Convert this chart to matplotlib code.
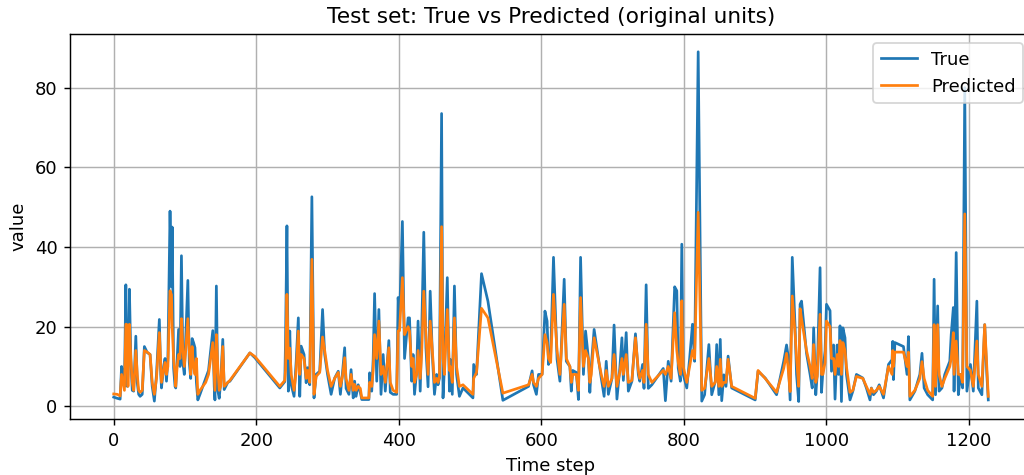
import matplotlib
matplotlib.use("Agg")
import matplotlib.pyplot as plt
import numpy as np

# (time step, true value, predicted value)
time_step = [
    0, 5, 9, 11, 13, 15, 17, 18, 19, 20, 22, 24, 26, 28, 31, 33, 35, 37, 40, 43,
    47, 51, 54, 57, 60, 64, 66, 67, 70, 72, 74, 76, 79, 81, 82, 84, 86, 87, 89, 91,
    93, 95, 97, 99, 101, 104, 106, 108, 110, 112, 114, 116, 118, 121, 125, 129, 133, 139, 141, 142,
    144, 146, 148, 150, 153, 155, 160, 163, 191, 198, 233, 240, 241, 243, 245, 247, 249, 253, 256, 259,
    261, 263, 267, 270, 272, 275, 278, 281, 284, 289, 293, 296, 300, 305, 310, 315, 318, 321, 324, 326,
    330, 333, 336, 338, 340, 343, 346, 348, 358, 359, 362, 364, 366, 369, 372, 375, 378, 381, 386, 388,
    392, 397, 399, 401, 405, 408, 413, 415, 418, 420, 422, 425, 427, 430, 432, 435, 438, 441, 444, 447,
    450, 453, 455, 457, 460, 462, 464, 468, 471, 472, 475, 478, 481, 485, 490, 504, 505, 509, 516, 525,
    546, 582, 587, 589, 593, 596, 601, 605, 608, 610, 613, 617, 622, 626, 632, 635, 640, 642, 644, 649,
    652, 655, 659, 662, 666, 668, 670, 674, 684, 688, 691, 694, 699, 702, 706, 710, 713, 715, 719, 722,
    727, 732, 736, 738, 742, 744, 747, 750, 755, 771, 774, 778, 782, 787, 790, 792, 795, 797, 799, 804,
    808, 812, 815, 820, 825, 829, 835, 839, 844, 846, 849, 851, 853, 856, 859, 862, 867, 900, 904, 914,
    930, 940, 944, 946, 949, 952, 956, 958, 961, 963, 965, 972, 977, 980, 982, 985, 987, 991, 993, 995,
    998, 1000, 1005, 1007, 1010, 1012, 1015, 1017, 1019, 1021, 1023, 1026, 1028, 1033, 1037, 1042, 1051, 1056, 1061, 1063,
    1066, 1070, 1074, 1080, 1087, 1092, 1093, 1094, 1096, 1108, 1113, 1115, 1117, 1124, 1131, 1134, 1137, 1142, 1149, 1151,
    1153, 1156, 1158, 1162, 1166, 1173, 1175, 1178, 1179, 1182, 1185, 1188, 1191, 1194, 1197, 1202, 1206, 1211, 1213, 1218,
    1222, 1225, 1227,
]
true_values = [
    2.3, 2.0, 1.8, 10.0, 8.0, 5.0, 30.5, 12.0, 5.0, 8.0, 29.4, 12.0, 4.0, 3.8, 17.6, 6.0, 3.0, 2.5, 3.0, 15.0,
    13.5, 13.0, 5.0, 1.3, 8.0, 21.8, 8.0, 4.6, 10.0, 12.0, 6.3, 12.0, 49.0, 30.0, 45.0, 9.6, 5.0, 4.6, 12.0, 19.3,
    10.0, 37.8, 11.0, 8.0, 17.0, 31.6, 11.0, 7.0, 17.0, 16.0, 14.7, 6.0, 1.6, 3.0, 5.0, 7.0, 9.0, 19.0, 5.0, 1.6,
    30.2, 4.0, 2.0, 6.0, 16.8, 4.2, 6.0, 6.3, 13.4, 12.2, 4.6, 6.2, 16.1, 45.3, 3.8, 18.9, 5.4, 2.5, 11.3, 22.2,
    2.5, 15.1, 13.0, 5.9, 9.7, 5.4, 52.6, 2.1, 8.0, 8.8, 24.3, 13.0, 8.0, 3.0, 7.1, 8.8, 3.0, 8.5, 14.7, 4.5,
    3.0, 9.2, 2.1, 6.3, 2.5, 5.4, 3.5, 1.7, 1.7, 8.4, 3.8, 11.8, 28.3, 6.3, 24.3, 3.0, 13.0, 3.8, 16.5, 3.5,
    3.0, 3.0, 27.3, 22.2, 46.4, 12.0, 22.2, 22.2, 6.3, 13.0, 3.0, 8.8, 21.4, 3.8, 18.0, 43.7, 14.7, 4.9, 28.9, 13.0,
    3.0, 8.0, 5.4, 7.1, 73.5, 2.1, 9.7, 32.3, 3.8, 11.8, 3.0, 30.2, 8.0, 2.5, 4.6, 2.1, 10.5, 8.0, 33.3, 26.4,
    1.5, 5.0, 8.9, 5.4, 3.0, 8.0, 8.0, 23.9, 21.4, 10.5, 13.0, 37.4, 11.8, 6.3, 31.9, 11.3, 10.0, 3.8, 9.0, 8.5,
    1.7, 37.4, 8.0, 18.9, 12.0, 3.5, 10.0, 19.3, 7.1, 2.5, 11.3, 3.0, 7.0, 20.4, 1.8, 9.5, 17.2, 6.5, 18.5, 3.8,
    6.3, 18.2, 8.0, 6.3, 10.5, 4.5, 30.5, 4.5, 5.4, 9.5, 1.4, 11.3, 6.3, 30.0, 29.0, 9.6, 6.3, 40.7, 8.0, 4.6,
    12.0, 20.6, 11.3, 89.0, 1.3, 2.9, 15.5, 2.9, 6.3, 15.5, 2.9, 16.8, 1.4, 7.9, 5.0, 12.6, 4.6, 1.6, 8.8, 7.1,
    2.9, 11.3, 15.4, 12.9, 1.6, 37.4, 19.7, 8.0, 1.2, 25.6, 26.4, 13.3, 8.0, 4.6, 19.7, 2.9, 8.0, 34.8, 3.5, 8.8,
    13.9, 25.6, 24.0, 8.8, 15.4, 1.8, 15.4, 8.0, 20.2, 1.2, 19.7, 17.2, 8.0, 1.6, 3.8, 8.0, 7.1, 4.6, 1.6, 4.6,
    2.9, 3.8, 5.4, 2.1, 10.5, 11.7, 16.3, 6.7, 16.0, 15.0, 8.0, 17.5, 1.6, 3.8, 8.0, 13.3, 4.6, 2.9, 1.6, 31.9,
    2.9, 25.2, 3.8, 4.6, 8.0, 11.3, 18.0, 24.8, 3.8, 38.6, 2.9, 8.0, 4.6, 80.0, 3.8, 10.5, 3.8, 26.4, 4.6, 2.9,
    20.5, 8.0, 1.6,
]
predicted_values = [
    3.1, 3.0, 2.6, 8.0, 6.0, 4.0, 20.6, 20.6, 12.0, 5.0, 20.6, 12.0, 6.0, 4.0, 14.0, 8.0, 4.0, 3.5, 4.0, 14.0,
    13.6, 13.0, 6.0, 3.0, 7.0, 18.5, 10.0, 6.0, 9.0, 11.0, 8.0, 10.0, 29.0, 28.0, 20.0, 12.0, 8.0, 5.0, 10.0, 13.0,
    12.0, 22.0, 14.0, 10.0, 14.0, 22.0, 14.0, 8.0, 15.0, 10.0, 8.0, 12.0, 3.0, 4.0, 5.0, 6.0, 8.0, 16.0, 8.0, 4.0,
    18.0, 10.0, 4.0, 5.0, 15.0, 5.0, 6.0, 6.5, 13.4, 12.5, 5.0, 6.5, 9.0, 28.1, 12.0, 14.6, 8.0, 4.0, 9.0, 18.9,
    8.0, 13.0, 12.0, 7.0, 9.0, 6.0, 36.9, 3.0, 7.5, 8.5, 17.4, 14.0, 9.0, 5.0, 7.0, 8.5, 5.0, 7.5, 12.2, 7.0,
    4.0, 8.0, 4.0, 5.5, 4.0, 5.0, 4.5, 2.1, 2.1, 6.0, 5.0, 9.0, 18.0, 12.0, 21.4, 8.0, 10.0, 6.0, 14.7, 6.0,
    4.0, 3.5, 18.9, 19.0, 32.3, 18.0, 20.0, 18.9, 10.0, 12.0, 6.0, 8.0, 14.0, 7.0, 13.0, 28.9, 18.0, 8.0, 21.4, 14.0,
    6.0, 7.0, 6.0, 7.5, 45.1, 12.0, 8.0, 24.3, 9.0, 10.0, 6.0, 22.2, 10.0, 5.0, 5.4, 3.0, 7.0, 8.5, 24.6, 22.2,
    3.3, 5.4, 8.0, 6.0, 5.0, 7.0, 8.0, 18.0, 16.0, 12.0, 11.0, 28.1, 14.0, 8.0, 25.6, 12.0, 10.0, 6.0, 8.0, 8.0,
    4.0, 27.3, 10.0, 14.0, 12.0, 6.0, 8.0, 17.2, 8.0, 5.0, 9.0, 5.0, 7.0, 13.0, 5.0, 8.5, 12.0, 8.0, 13.0, 6.0,
    6.5, 17.2, 9.0, 7.0, 9.0, 6.0, 20.6, 8.0, 6.0, 9.0, 8.0, 10.0, 7.0, 23.5, 14.0, 11.0, 8.0, 26.5, 10.0, 6.0,
    10.0, 14.0, 12.0, 48.7, 4.0, 4.5, 12.0, 5.0, 6.0, 10.0, 5.0, 11.8, 5.0, 6.0, 6.0, 11.8, 5.0, 2.0, 9.0, 7.0,
    3.5, 9.5, 13.3, 10.0, 3.7, 27.7, 18.0, 12.0, 5.0, 24.5, 22.0, 14.0, 10.0, 7.0, 15.5, 6.0, 7.5, 23.1, 8.0, 8.0,
    11.0, 21.4, 20.0, 12.0, 12.0, 8.0, 13.0, 10.0, 16.5, 8.0, 16.0, 14.0, 10.0, 3.5, 4.0, 7.5, 7.0, 5.0, 3.0, 4.5,
    3.5, 4.0, 5.0, 3.0, 10.0, 8.0, 14.0, 10.0, 13.6, 13.6, 10.0, 13.6, 2.5, 4.0, 7.0, 11.2, 7.0, 4.0, 2.5, 20.5,
    5.0, 20.5, 8.0, 5.0, 7.0, 10.0, 12.0, 18.5, 8.0, 16.4, 8.0, 8.0, 6.0, 48.3, 10.0, 9.0, 5.0, 16.4, 8.0, 5.0,
    20.5, 10.0, 2.5,
]

title = "Test set: True vs Predicted (original units)"
x_label = "Time step"
y_label = "value"
series_labels = ["True", "Predicted"]

DPI = 130
fig = plt.figure(figsize=(1024 / DPI, 475 / DPI), dpi=DPI)
ax = fig.add_axes([70 / 1024, 1 - 419 / 475, 962 / 1024, (419 - 34.3) / 475])
ax.plot(time_step, true_values, color="#1f77b4", label=series_labels[0])
ax.plot(time_step, predicted_values, color="#ff7f0e", label=series_labels[1])
ax.set_title(title)
ax.set_xlabel(x_label)
ax.set_ylabel(y_label)
ax.grid(True)
ax.legend(loc="upper right")
fig.savefig("out.png", dpi=DPI)
